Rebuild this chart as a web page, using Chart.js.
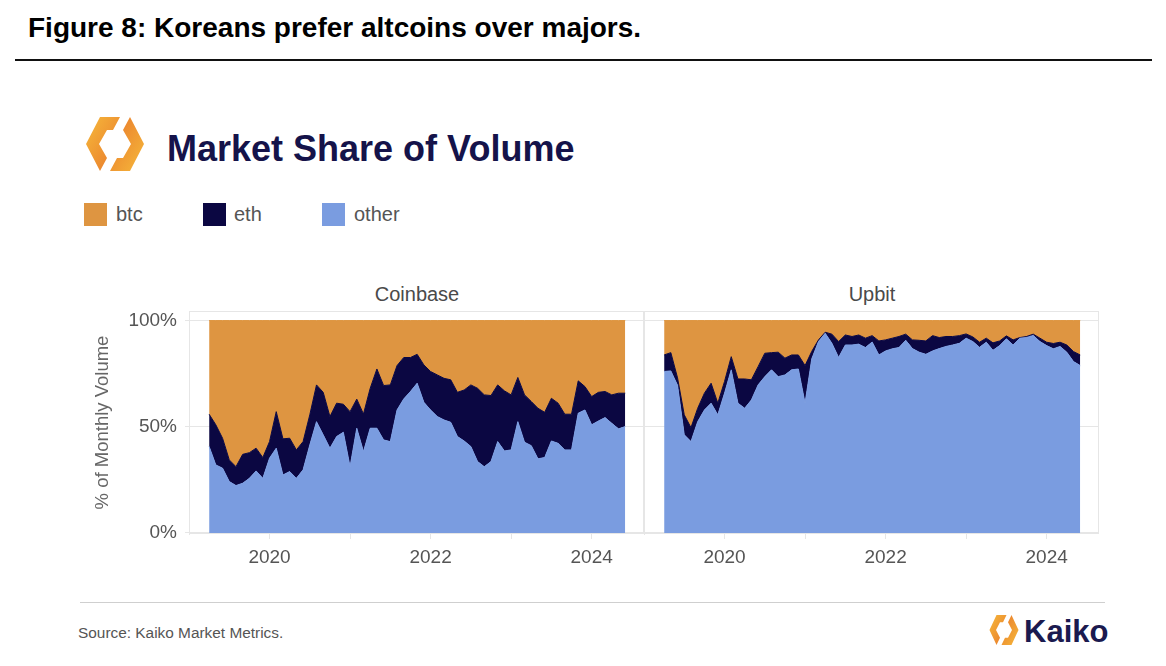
<!DOCTYPE html>
<html>
<head>
<meta charset="utf-8">
<script src="https://cdn.jsdelivr.net/npm/chart.js@4.4.1/dist/chart.umd.min.js"></script>
<style>
body{margin:0;width:1166px;height:666px;background:#fff;position:relative;overflow:hidden;font-family:"Liberation Sans",Arial,sans-serif;}
.abs{position:absolute;line-height:1;white-space:nowrap;}
#fig{left:28px;top:14px;font-size:28px;font-weight:bold;color:#000;}
#rule{left:15px;top:59px;width:1137px;height:2px;background:#111;}
#title{left:167px;top:131px;font-size:36px;font-weight:bold;color:#15134a;}
.sw{position:absolute;top:203px;width:23px;height:23px;}
.lg{top:204px;font-size:20px;color:#555;}
.ptitle{top:284px;font-size:20px;color:#4a4a4a;transform:translateX(-50%);}
#foot{left:80px;top:602px;width:1025px;height:1px;background:#cfcfcf;}
#src{left:78px;top:625px;font-size:15.4px;color:#555;}
#kaiko{left:1024px;top:616px;font-size:31px;font-weight:bold;color:#1b1a4f;}
canvas{position:absolute;}
</style>
</head>
<body>
<div class="abs" id="fig">Figure 8: Koreans prefer altcoins over majors.</div>
<div class="abs" id="rule"></div>

<svg class="abs" style="left:85px;top:115px" width="60" height="58" viewBox="0 0 60 58">
  <defs>
    <linearGradient id="g1" x1="0" y1="0" x2="1" y2="1">
      <stop offset="0" stop-color="#f6b93b"/>
      <stop offset="1" stop-color="#e8772b"/>
    </linearGradient>
    <linearGradient id="g2" x1="1" y1="1" x2="0" y2="0">
      <stop offset="0" stop-color="#f6b93b"/>
      <stop offset="1" stop-color="#e8772b"/>
    </linearGradient>
  </defs>
  <polygon points="15,2 35,2 28,15 22,15 14,29 22,43 15,56 1,29" fill="url(#g1)"/>
  <polygon points="45,56 25,56 32,43 38,43 46,29 38,15 45,2 59,29" fill="url(#g2)"/>
</svg>
<div class="abs" id="title">Market Share of Volume</div>

<div class="sw" style="left:84px;background:#de9541"></div>
<div class="abs lg" style="left:116px">btc</div>
<div class="sw" style="left:203px;background:#0b0742"></div>
<div class="abs lg" style="left:234px">eth</div>
<div class="sw" style="left:322px;background:#7a9ce0"></div>
<div class="abs lg" style="left:354px">other</div>

<div class="abs ptitle" style="left:417px">Coinbase</div>
<div class="abs ptitle" style="left:872px">Upbit</div>

<canvas id="cb" width="575" height="300" style="left:85px;top:270px"></canvas>
<canvas id="ub" width="481" height="300" style="left:634px;top:270px"></canvas>

<div class="abs" id="foot"></div>
<div class="abs" id="src">Source: Kaiko Market Metrics.</div>
<svg class="abs" style="left:989px;top:614px" width="30" height="32" viewBox="0 0 60 58" preserveAspectRatio="none">
  <polygon points="15,2 35,2 28,15 22,15 14,29 22,43 15,56 1,29" fill="url(#g1)"/>
  <polygon points="45,56 25,56 32,43 38,43 46,29 38,15 45,2 59,29" fill="url(#g2)"/>
</svg>
<div class="abs" id="kaiko">Kaiko</div>

<script>
const months = [
  '2019-04','2019-05','2019-06','2019-07','2019-08','2019-09','2019-10','2019-11','2019-12',
  '2020-01','2020-02','2020-03','2020-04','2020-05','2020-06','2020-07','2020-08','2020-09','2020-10','2020-11','2020-12',
  '2021-01','2021-02','2021-03','2021-04','2021-05','2021-06','2021-07','2021-08','2021-09','2021-10','2021-11','2021-12',
  '2022-01','2022-02','2022-03','2022-04','2022-05','2022-06','2022-07','2022-08','2022-09','2022-10','2022-11','2022-12',
  '2023-01','2023-02','2023-03','2023-04','2023-05','2023-06','2023-07','2023-08','2023-09','2023-10','2023-11','2023-12',
  '2024-01','2024-02','2024-03','2024-04','2024-05','2024-06'
];

// Coinbase shares (%)
const coinbaseOther = [
  40.7, 32.0, 30.5, 24.2, 22.3, 23.4, 25.7, 29.2, 25.7, 35.2,
  39.9, 27.3, 28.9, 25.7, 29.7, 41.4, 52.4, 46.2, 39.9, 45.4,
  47.4, 31.2, 49.3, 38.3, 49.3, 49.3, 43.8, 43.0, 57.9, 63.1,
  66.6, 70.5, 61.5, 57.9, 54.8, 53.2, 52.1, 45.4, 43.3, 40.7,
  33.6, 31.2, 33.6, 43.0, 38.6, 39.1, 52.4, 42.7, 41.1, 34.9,
  35.5, 43.3, 42.2, 39.1, 39.1, 56.4, 57.9, 50.9, 52.7, 54.3,
  51.6, 49.0, 50.1
];
const coinbaseEth = [
  15.2, 18.9, 14.1, 10.2, 8.9, 13.6, 12.1, 10.7, 9.8, 7.8,
  17.2, 17.0, 15.7, 13.4, 13.3, 14.2, 17.3, 20.0, 14.9, 15.7,
  13.2, 25.9, 13.7, 17.7, 18.8, 27.9, 25.6, 26.7, 20.9, 19.5,
  16.0, 13.6, 17.6, 18.1, 19.6, 19.6, 20.0, 20.8, 24.0, 29.0,
  34.5, 33.8, 31.1, 26.7, 28.3, 25.9, 20.8, 22.3, 20.8, 23.8,
  21.3, 20.1, 18.9, 16.8, 16.8, 15.2, 11.0, 13.3, 13.5, 12.3,
  13.4, 16.8, 15.7
];
const coinbaseBtc = [
  44.1, 49.1, 55.4, 65.6, 68.8, 63.0, 62.2, 60.1, 64.5, 57.0,
  42.9, 55.7, 55.4, 60.9, 57.0, 44.4, 30.3, 33.8, 45.2, 38.9,
  39.4, 42.9, 37.0, 44.0, 31.9, 22.8, 30.6, 30.3, 21.2, 17.4,
  17.4, 15.9, 20.9, 24.0, 25.6, 27.2, 27.9, 33.8, 32.7, 30.3,
  31.9, 35.0, 35.3, 30.3, 33.1, 35.0, 26.8, 35.0, 38.1, 41.3,
  43.2, 36.6, 38.9, 44.1, 44.1, 28.4, 31.1, 35.8, 33.8, 33.4,
  35.0, 34.2, 34.2
];

// Upbit shares (%)
const upbitOther = [
  76.0, 76.3, 69.5, 46.2, 43.0, 52.4, 57.9, 61.1, 55.6, 65.8,
  76.8, 61.1, 58.7, 62.6, 69.7, 73.6, 76.8, 73.6, 74.4, 76.8,
  77.2, 61.1, 82.0, 90.1, 94.0, 89.3, 82.6, 88.5, 88.5, 88.9,
  87.3, 89.9, 83.8, 85.7, 86.7, 87.3, 90.7, 86.8, 85.1, 84.1,
  85.7, 86.8, 87.8, 88.5, 89.3, 91.7, 90.1, 87.4, 89.8, 86.0,
  88.2, 91.4, 88.5, 91.7, 92.0, 93.0, 90.1, 88.2, 86.7, 87.8,
  85.1, 80.7, 78.8
];
const upbitEth = [
  7.8, 8.6, 3.5, 9.4, 6.6, 6.3, 7.9, 9.4, 5.5, 5.5,
  6.2, 11.4, 13.8, 9.5, 8.6, 11.0, 8.1, 11.5, 7.9, 7.0,
  6.6, 17.7, 3.5, 0.8, 0.5, 4.3, 7.5, 4.7, 4.0, 4.3,
  4.4, 3.0, 6.6, 5.2, 5.0, 5.2, 2.9, 4.1, 5.6, 6.3,
  7.2, 5.2, 4.7, 4.0, 3.6, 2.0, 2.2, 2.4, 1.9, 3.5,
  2.2, 1.4, 2.4, 0.3, 0.5, 0.6, 1.6, 1.6, 2.5, 2.0,
  3.4, 4.7, 5.0
];
const upbitBtc = [
  16.2, 15.1, 27.0, 44.4, 50.4, 41.3, 34.2, 29.5, 38.9, 28.7,
  17.0, 27.5, 27.5, 27.9, 21.7, 15.4, 15.1, 14.9, 17.7, 16.2,
  16.2, 21.2, 14.5, 9.1, 5.5, 6.4, 9.9, 6.8, 7.5, 6.8,
  8.3, 7.1, 9.6, 9.1, 8.3, 7.5, 6.4, 9.1, 9.3, 9.6,
  7.1, 8.0, 7.5, 7.5, 7.1, 6.3, 7.7, 10.2, 8.3, 10.5,
  9.6, 7.2, 9.1, 8.0, 7.5, 6.4, 8.3, 10.2, 10.8, 10.2,
  11.5, 14.6, 16.2
];

const yTicks = [0, 50, 100];
const yearTicks = [2020, 2021, 2022, 2023, 2024];
const labelYears = [2020, 2022, 2024];

const COLORS = {btc: '#de9541', eth: '#0b0742', other: '#7a9ce0'};
const GRID = '#e6e6e6';

// month string -> fractional year for the linear x axis
const monthToX = m => {
  const [y, mo] = m.split('-').map(Number);
  return y + (mo - 1) / 12;
};
const toPoints = arr => arr.map((v, i) => ({x: monthToX(months[i]), y: v}));

const panelFrame = {
  id: 'panelFrame',
  beforeDatasetsDraw(chart) {
    const {ctx, chartArea: a} = chart;
    ctx.save();
    ctx.strokeStyle = GRID;
    ctx.lineWidth = 1;
    ctx.strokeRect(a.left + 0.5, a.top + 0.5, a.right - a.left - 1, a.bottom - a.top - 1);
    ctx.restore();
  }
};

const makeDataset = (label, arr, fill) => ({
  label: label,
  data: toPoints(arr),
  backgroundColor: COLORS[label],
  borderColor: COLORS[label],
  borderWidth: 1,
  pointRadius: 0,
  tension: 0,
  fill: fill
});

const makeChart = (id, other, eth, btc, showY) => {
  const ctx = document.getElementById(id).getContext('2d');
  return new Chart(ctx, {
    type: 'line',
    data: {
      datasets: [
        makeDataset('other', other, 'origin'),
        makeDataset('eth', eth, '-1'),
        makeDataset('btc', btc, '-1')
      ]
    },
    plugins: [panelFrame],
    options: {
      responsive: false,
      animation: false,
      devicePixelRatio: 1,
      layout: {padding: {top: 41, right: 16, bottom: 0, left: showY ? 0 : 10}},
      plugins: {legend: {display: false}, tooltip: {enabled: false}},
      scales: {
        x: {
          type: 'linear',
          min: 2019.0,
          max: 2024.65,
          afterBuildTicks: s => { s.ticks = yearTicks.map(v => ({value: v})); },
          afterFit: s => { s.height = 36; },
          grid: {drawOnChartArea: false, drawTicks: true, tickLength: 5, color: GRID},
          border: {display: false},
          ticks: {
            autoSkip: false,
            maxRotation: 0,
            padding: 7,
            color: '#555',
            font: {family: 'Liberation Sans', size: 19},
            callback: v => labelYears.includes(v) ? String(v) : ''
          }
        },
        y: {
          stacked: true,
          min: -0.5,
          max: 104.5,
          afterBuildTicks: s => { s.ticks = yTicks.map(v => ({value: v})); },
          afterFit: s => { s.width = showY ? 104 : 0; },
          grid: {color: GRID, drawTicks: showY, tickLength: 4},
          border: {display: true, color: GRID},
          title: {
            display: showY,
            text: '% of Monthly Volume',
            color: '#666',
            padding: {top: 7},
            font: {family: 'Liberation Sans', size: 18.5}
          },
          ticks: {
            display: showY,
            padding: 8,
            color: '#555',
            font: {family: 'Liberation Sans', size: 19},
            callback: v => v + '%'
          }
        }
      }
    }
  });
};

makeChart('cb', coinbaseOther, coinbaseEth, coinbaseBtc, true);
makeChart('ub', upbitOther, upbitEth, upbitBtc, false);
</script>
</body>
</html>
